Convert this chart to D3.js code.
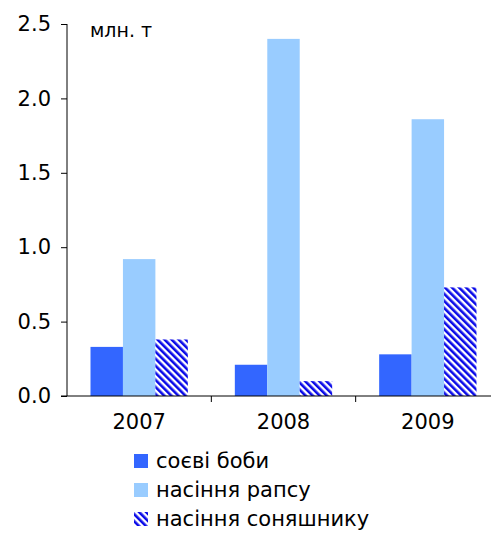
<!DOCTYPE html>
<html><head><meta charset="utf-8">
<script src="https://cdn.jsdelivr.net/npm/d3@7"></script>
<style>body{margin:0;background:#fff}svg{display:block}svg text{font-family:"DejaVu Sans",Verdana,sans-serif}</style>
</head><body><svg id="c" width="491" height="533"></svg>
<script>
const years = ["2007", "2008", "2009"];
const seriesNames = ["соєві боби", "насіння рапсу", "насіння соняшнику"];
const soy = [0.33, 0.21, 0.28];
const rapeseed = [0.92, 2.40, 1.86];
const sunflower = [0.38, 0.10, 0.73];
const yTicks = [0, 0.5, 1.0, 1.5, 2.0, 2.5];
const unitLabel = "млн. т";

const series = [soy, rapeseed, sunflower];
const fills = ["#3366ff", "#99ccff", "url(#stripe)"];
const FONT = "DejaVu Sans, Verdana, sans-serif";

const svg = d3.select("#c");
const defs = svg.append("defs");
const pat = defs.append("pattern").attr("id", "stripe").attr("patternUnits", "userSpaceOnUse")
  .attr("width", 5).attr("height", 5).attr("patternTransform", "rotate(-45)");
pat.append("rect").attr("width", 5).attr("height", 5).attr("fill", "#ffffff");
pat.append("rect").attr("width", 2.6).attr("height", 5).attr("fill", "#0a0ae8");

const x = d3.scaleBand().domain(years).range([67, 500]).paddingInner(0).paddingOuter(0);
const inner = d3.scaleBand().domain(d3.range(3)).range([23.5, x.bandwidth() - 23.5]);
const y = d3.scaleLinear().domain([0, 2.5]).range([396, 24]);

const g = svg.append("g");
series.forEach((vals, si) => {
  g.selectAll(null).data(vals).enter().append("rect")
    .attr("x", (d, i) => x(years[i]) + inner(si))
    .attr("width", inner.bandwidth())
    .attr("y", d => y(d))
    .attr("height", d => y(0) - y(d))
    .attr("fill", fills[si]);
});

const yAxis = svg.append("g").attr("transform", "translate(67,0)")
  .call(d3.axisLeft(y).tickValues(yTicks).tickFormat(d3.format(".1f")).tickSize(6).tickPadding(10));
yAxis.attr("font-family", FONT).attr("font-size", 21);
yAxis.selectAll("text").attr("fill", "#000");
yAxis.selectAll("line,path").attr("stroke", "#000");
yAxis.select(".domain").attr("d", "M0,24V396");

const xAxis = svg.append("g").attr("transform", "translate(0,396)")
  .call(d3.axisBottom(x).tickSize(0).tickPadding(18));
xAxis.attr("font-family", FONT).attr("font-size", 21);
xAxis.selectAll("text").attr("fill", "#000");
xAxis.select(".domain").attr("d", "M61,0H500").attr("stroke", "#000");
xAxis.selectAll(null).data(years.slice(1)).enter().append("line")
  .attr("x1", d => x(d)).attr("x2", d => x(d)).attr("y1", 0).attr("y2", 6).attr("stroke", "#000");

svg.append("text").attr("x", 90).attr("y", 37).attr("font-size", 19).attr("font-family", FONT).text(unitLabel);

const leg = svg.append("g").attr("font-family", FONT);
seriesNames.forEach((n, i) => {
  const yy = 454 + i * 29;
  leg.append("rect").attr("x", 134).attr("y", yy).attr("width", 14).attr("height", 14).attr("fill", fills[i]);
  leg.append("text").attr("x", 156).attr("y", yy + 14).attr("font-size", 21).text(n);
});
</script></body></html>
